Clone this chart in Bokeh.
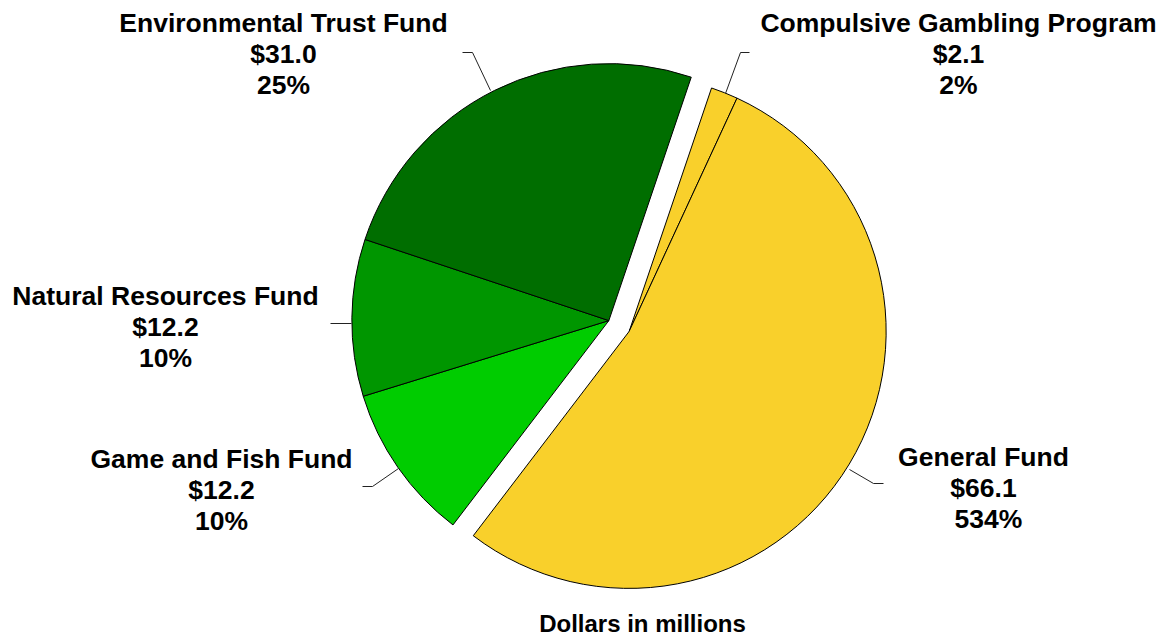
import math
from bokeh.plotting import figure
from bokeh.models import Range1d, ColumnDataSource
from bokeh.core.properties import value
from bokeh.embed import file_html
from bokeh.resources import INLINE

# ---- data ----
categories = ["Compulsive Gambling Program", "General Fund", "Game and Fish Fund",
              "Natural Resources Fund", "Environmental Trust Fund"]
amounts = [2.1, 66.1, 12.2, 12.2, 31.0]
pct_labels = ["2%", "534%", "10%", "10%", "25%"]
groups = ["yellow", "yellow", "green", "green", "green"]
colors = ["#F9D02B", "#F9D02B", "#00CC00", "#009600", "#006E00"]
subtitle = "Dollars in millions"

# ---- layout ----
W, H = 1162, 638
CX, CY = 618.5, 325.5      # base pie centre in page pixels
R = 257
START = 18.7               # compass degrees where first slice begins
EXPLODE = 11.5
FONT = "Liberation Sans"

p = figure(width=W, height=H, output_backend="svg", toolbar_location=None,
           x_range=Range1d(0, W), y_range=Range1d(-H, 0),
           min_border=0, outline_line_color=None)
p.axis.visible = False
p.grid.visible = False
p.background_fill_color = "white"

total = sum(amounts)
spans = {}
c = START
comp = []
for a, g in zip(amounts, groups):
    w = a / total * 360.0
    comp.append((c, c + w))
    lo, hi = spans.get(g, (c, c))
    spans[g] = (min(lo, c), max(hi, c + w))
    c += w

xs, ys, sa, ea, fc = [], [], [], [], []
for (c1, c2), g, col in zip(comp, groups, colors):
    g1, g2 = spans[g]
    mid = math.radians(90 - (g1 + g2) / 2)
    cx = CX + EXPLODE * math.cos(mid)
    cy = -CY + EXPLODE * math.sin(mid)
    xs.append(cx); ys.append(cy)
    sa.append(math.radians(90 - c2)); ea.append(math.radians(90 - c1))
    fc.append(col)

src = ColumnDataSource(dict(x=xs, y=ys, sa=sa, ea=ea, fc=fc))
p.wedge(x="x", y="y", radius=R, start_angle="sa", end_angle="ea",
        direction="anticlock", fill_color="fc", line_color="black",
        line_width=1, source=src)

# leader lines (page pixel paths)
leaders = [
    ([725, 740, 749], [93, 52, 52]),     # compulsive
    ([849, 873, 883], [469, 483, 483]),  # general
    ([398, 372, 362], [468, 486, 486]),  # game and fish
    ([351, 330], [323, 323]),            # natural
    ([490, 472, 462], [90, 52, 52]),     # environmental
]
for lx, ly in leaders:
    p.line(lx, [-v for v in ly], line_color="#222222", line_width=1)

# labels
label_pos = [(958, 22), (983, 456), (221, 458), (165, 295), (283, 22)]
for name, amt, pct, (lx, ly) in zip(categories, amounts, pct_labels, label_pos):
    lines = [name, "$%.1f" % amt, pct]
    for i, t in enumerate(lines):
        p.text(x=[lx + (5 if t == "534%" else 0)], y=[-(ly + i * 31)], text=[t],
               text_font=value(FONT),
               text_font_style="bold", text_font_size="26.5px",
               text_align="center", text_baseline="middle", text_color="black")

p.text(x=[642], y=[-623], text=[subtitle], text_font=value(FONT),
       text_font_style="bold", text_font_size="24px",
       text_align="center", text_baseline="middle", text_color="black")

open("out.html", "w").write(file_html(p, INLINE))
